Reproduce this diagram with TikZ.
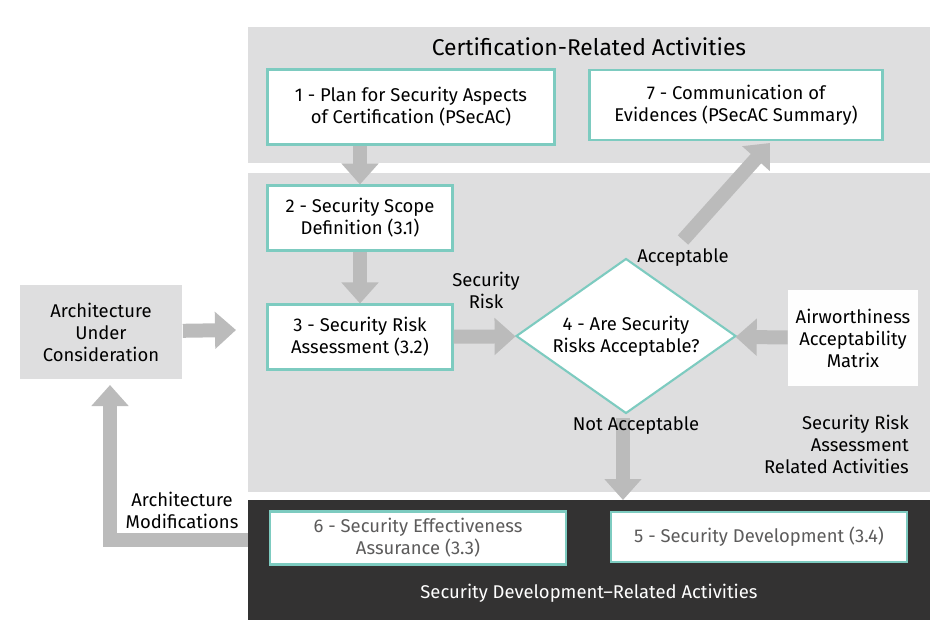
\documentclass[tikz,border=0pt]{standalone}
\usepackage{fontspec}
\setmainfont{Fira Sans}
\usetikzlibrary{shapes.geometric,arrows.meta,positioning}
\definecolor{panel}{HTML}{DEDEDF}
\definecolor{dark}{HTML}{333232}
\definecolor{teal}{HTML}{7DCBC0}
\definecolor{arr}{HTML}{BBBBBB}
\tikzset{
  stepbox/.style={draw=teal, line width=1.2pt, fill=white, align=center, font=\fontsize{10.5}{12.5}\selectfont},
  flow/.style={draw=arr, line width=0.28cm, -{Triangle[width=0.72cm,length=0.42cm]}},
  lbl/.style={align=center, font=\fontsize{10.5}{12.5}\selectfont}
}
\begin{document}
\begin{tikzpicture}[x=0.02cm,y=-0.02cm]
    \useasboundingbox (0,0) rectangle (950,636);

    % panels
    \fill[panel] (248,27) rectangle (930,163);
    \fill[panel] (248,173) rectangle (930,492);
    \fill[dark] (248,500) rectangle (930,620);
    \node[lbl, font=\fontsize{13}{15}\selectfont] (certtitle) at (589,47) {Certification-Related Activities};
    \node[lbl, text=white] (devtitle) at (589,593) {Security Development--Related Activities};

    % boxes
    \node[fill=panel, lbl, minimum width=3.26cm, minimum height=1.9cm] (arch) at (101,332) {Architecture\\Under\\Consideration};
    \node[stepbox, minimum width=5.74cm, minimum height=1.5cm] (plan) at (411,107) {1 - Plan for Security Aspects\\of Certification (PSecAC)};
    \node[stepbox, minimum width=5.86cm, minimum height=1.4cm] (comm) at (736,105) {7 - Communication of\\Evidences (PSecAC Summary)};
    \node[stepbox, minimum width=3.7cm, minimum height=1.3cm] (scope) at (360,218) {2 - Security Scope\\Definition (3.1)};
    \node[stepbox, minimum width=3.7cm, minimum height=1.3cm] (risk) at (360,337) {3 - Security Risk\\Assessment (3.2)};
    \node[stepbox, diamond, aspect=1.4, inner sep=1pt, minimum width=4.4cm, minimum height=3.1cm] (accept) at (626,336) {4 - Are Security\\Risks Acceptable?};
    \node[fill=white!96!panel, lbl, minimum width=2.6cm, minimum height=1.94cm] (matrix) at (853,338) {Airworthiness\\Acceptability\\Matrix};
    \node[stepbox, text=dark!80, minimum width=5.92cm, minimum height=1.06cm] (assur) at (418,538) {6 - Security Effectiveness\\Assurance (3.3)};
    \node[stepbox, text=dark!80, minimum width=5.92cm, minimum height=1.0cm] (devel) at (759,537) {5 - Security Development (3.4)};
    \coordinate (panelin) at (236,330);
    \coordinate (devtop) at (623,500);
    \coordinate (loopstart) at (248,540);
    \coordinate (bend) at (110,540);
    \coordinate (archin) at (110,385);

    % arrows
    \draw[flow] (plan.south -| scope) -- (scope);
    \draw[flow] (scope) -- (risk);
    \draw[flow] (risk) -- (accept);
    \draw[flow] (matrix) -- (accept);
    \draw[flow] (arch) -- (panelin);
    \draw[flow] (623,418) -- (devtop);
    \draw[flow] (683,240) -- (770,143);
    \draw[flow] (loopstart) -- (bend) -- (archin);

    % labels
    \node[lbl] (risklbl) at (486,290) {Security\\Risk};
    \node[lbl] (acclbl) at (683,258) {Acceptable};
    \node[lbl] (notlbl) at (636,426) {Not Acceptable};
    \node[lbl, align=right, anchor=east] (ralbl) at (915,444) {Security Risk\\Assessment\\Related Activities};
    \node[lbl] (modlbl) at (182,510) {Architecture\\Modifications};
\end{tikzpicture}
\end{document}
